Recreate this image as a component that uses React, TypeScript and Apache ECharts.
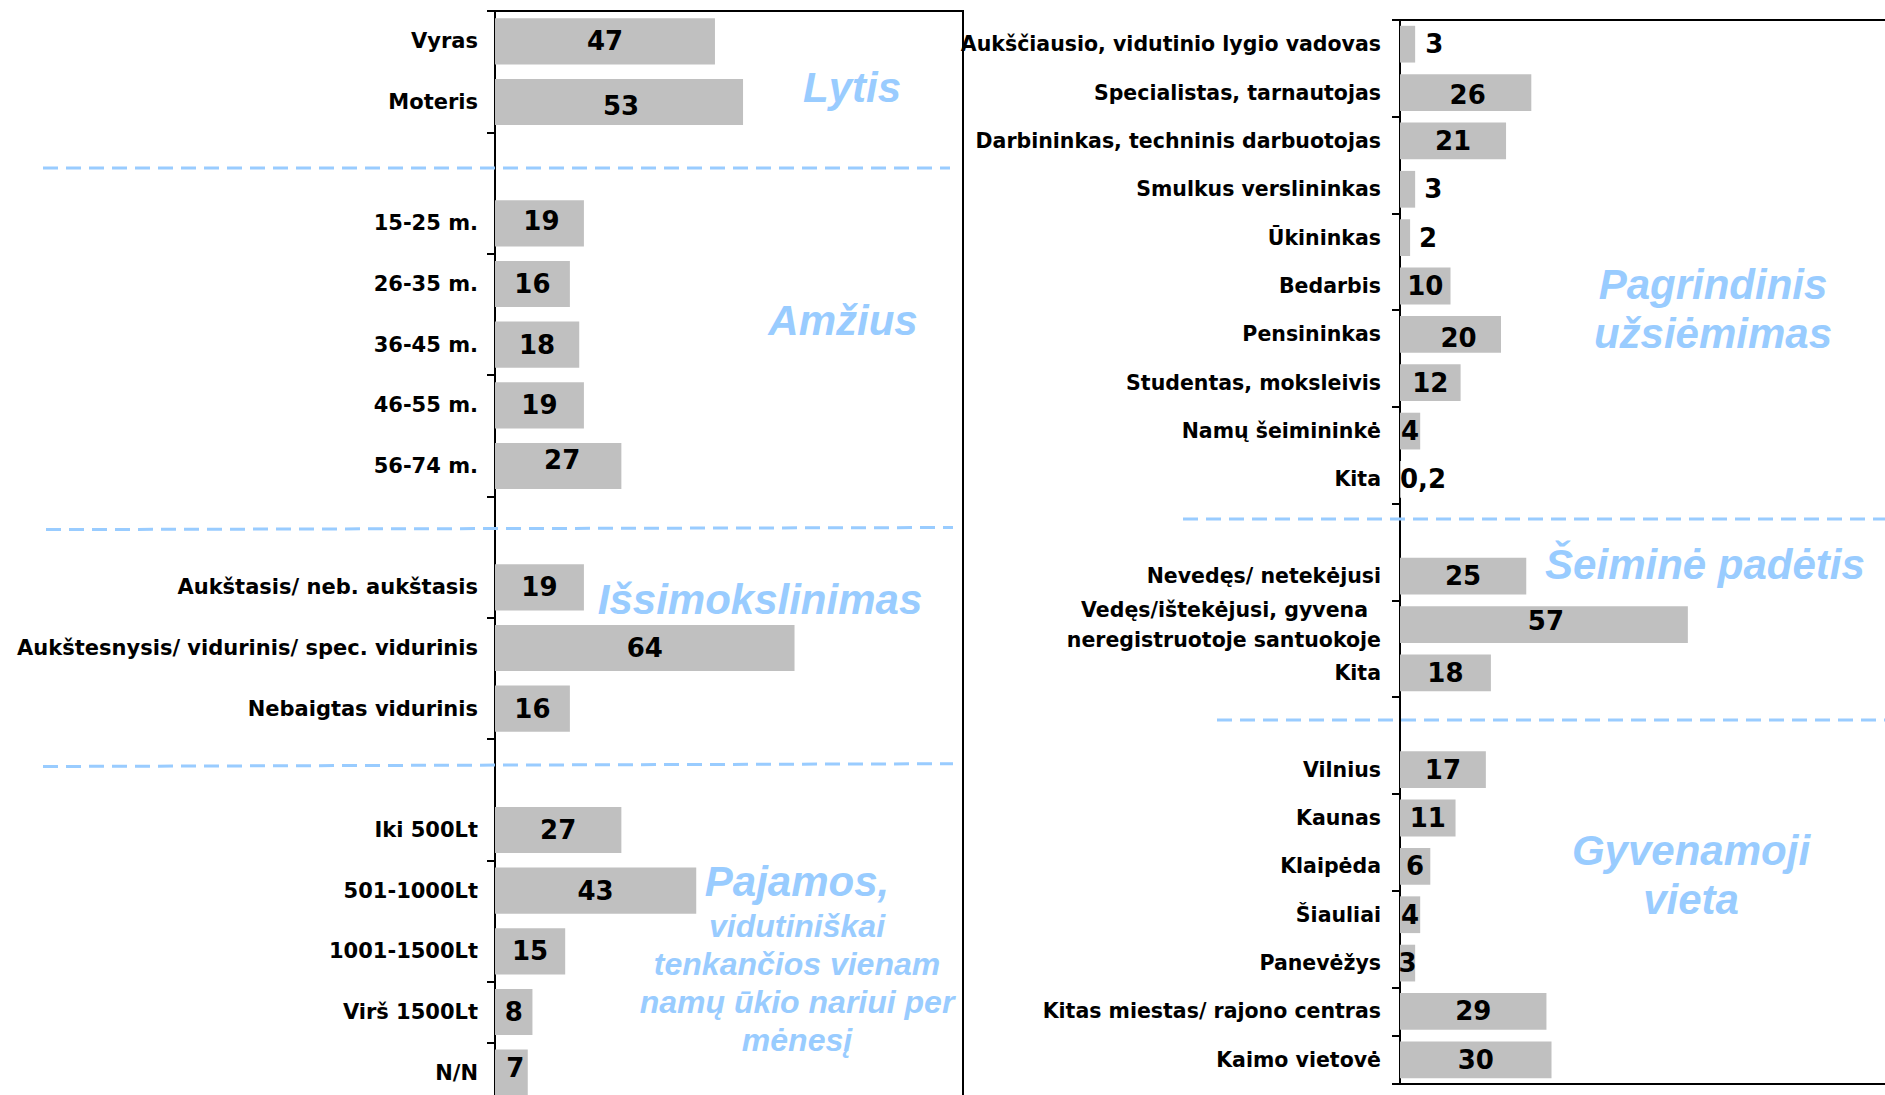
import React, { useEffect, useRef } from "react";
import * as echarts from "echarts";

// ---------- data ----------
const leftCategories = [
  "Vyras", "Moteris", "",
  "15-25 m.", "26-35 m.", "36-45 m.", "46-55 m.", "56-74 m.", "",
  "Aukštasis/ neb. aukštasis", "Aukštesnysis/ vidurinis/ spec. vidurinis", "Nebaigtas vidurinis", "",
  "Iki 500Lt", "501-1000Lt", "1001-1500Lt", "Virš 1500Lt", "N/N",
];
const leftValues = [47, 53, null, 19, 16, 18, 19, 27, null, 19, 64, 16, null, 27, 43, 15, 8, 7];

const rightCategories = [
  "Aukščiausio, vidutinio lygio vadovas", "Specialistas, tarnautojas", "Darbininkas, techninis darbuotojas",
  "Smulkus verslininkas", "Ūkininkas", "Bedarbis", "Pensininkas", "Studentas, moksleivis",
  "Namų šeimininkė", "Kita", "",
  "Nevedęs/ netekėjusi", "Vedęs/ištekėjusi, gyvena\nneregistruotoje santuokoje", "Kita", "",
  "Vilnius", "Kaunas", "Klaipėda", "Šiauliai", "Panevėžys", "Kitas miestas/ rajono centras", "Kaimo vietovė",
];
const rightValues = [3, 26, 21, 3, 2, 10, 20, 12, 4, 0.2, null, 25, 57, 18, null, 17, 11, 6, 4, 3, 29, 30];

const leftTitles = ["Lytis", "Amžius", "Išsimokslinimas", "Pajamos,"];
const incomeNote = "vidutiniškai\ntenkančios vienam\nnamų ūkio nariui per\nmėnesį";
const rightTitles = ["Pagrindinis\nužsiėmimas", "Šeiminė padėtis", "Gyvenamoji\nvieta"];

// ---------- styles ----------
const BLUE = "#99CCFF";
const BAR = "#C0C0C0";
const LABEL_FONT = "DejaVu Sans";
const TITLE_FONT = "Liberation Sans";

const leftLabelTweaks: Record<number, any> = {
  1: { offset: [2, 4] },
  3: { offset: [2, -2] },
  7: { offset: [4, -6] },
  17: { offset: [4, -5] },
};
const rightLabelTweaks: Record<number, any> = {
  0: { position: "right", distance: 10 },
  1: { offset: [2, 2] },
  3: { position: "right", distance: 9 },
  4: { position: "right", distance: 9 },
  6: { offset: [8, 4] },
  9: { position: "right", distance: -1 },
  12: { offset: [2, -4] },
};

const keyed = (arr: string[]) => arr.map((c, i) => `${i}|${c}`);
const unkey = (v: string) => v.slice(v.indexOf("|") + 1);

const seriesData = (vals: (number | null)[], tweaks: Record<number, any>) =>
  vals.map((v, i) => (tweaks[i] ? { value: v, label: tweaks[i] } : v));

const valueLabel = {
  show: true,
  position: "inside",
  color: "#000",
  fontFamily: LABEL_FONT,
  fontWeight: "bold",
  fontSize: 26,
  textBorderWidth: 0,
  formatter: (p: any) => String(p.value).replace(".", ","),
};

const catAxisCommon = (margin: number, fontSize: number) => ({
  type: "category",
  inverse: true,
  axisLine: { show: true, lineStyle: { color: "#000", width: 2 } },
  axisTick: { show: true, interval: 1, length: 8, lineStyle: { color: "#000", width: 2 } },
  axisLabel: {
    show: true,
    interval: 0,
    margin,
    color: "#000",
    fontFamily: LABEL_FONT,
    fontWeight: "bold",
    fontSize,
    lineHeight: 30,
  },
  splitLine: { show: false },
});

const titleText = (text: string, x: number, y: number, size: number, lineHeight?: number) => ({
  type: "text",
  x,
  y,
  z: 100,
  style: {
    text,
    fill: BLUE,
    fontFamily: TITLE_FONT,
    fontWeight: "bold",
    fontStyle: "italic",
    fontSize: size,
    lineHeight: lineHeight || size * 1.15,
    align: "center",
    verticalAlign: "middle",
  },
});

const dash = (x1: number, y1: number, x2: number, y2: number) => ({
  type: "line",
  z: 50,
  shape: { x1, y1, x2, y2 },
  style: { stroke: BLUE, lineWidth: 3, lineDash: [15, 8] },
});

export default function App() {
  const ref = useRef<HTMLDivElement>(null);

  useEffect(() => {
    if (!ref.current) return;
    const chart = echarts.init(ref.current, undefined, { renderer: "svg" });

    const rightAxis: any = catAxisCommon(19, 20.5);
    rightAxis.axisLabel.formatter = (v: string) => {
      const t = unkey(v);
      if (t.includes("\n")) {
        const [a, b] = t.split("\n");
        return `{a|${a}}\n{b|${b}}`;
      }
      return t;
    };
    const richBase = { fontFamily: LABEL_FONT, fontWeight: "bold", fontSize: 20.5, color: "#000", lineHeight: 30 };
    rightAxis.axisLabel.rich = { a: { ...richBase, padding: [0, 13, 0, 0] }, b: { ...richBase } };
    rightAxis.gridIndex = 1;
    rightAxis.data = keyed(rightCategories);

    const leftAxis: any = catAxisCommon(17, 21);
    leftAxis.axisLabel.formatter = (v: string) => unkey(v);
    leftAxis.gridIndex = 0;
    leftAxis.data = keyed(leftCategories);

    chart.setOption({
      animation: false,
      backgroundColor: "#fff",
      grid: [
        {
          left: 495, top: 11, width: 468, height: 1092,
          show: true, borderColor: "#000", borderWidth: 2,
          containLabel: false, outerBoundsMode: "none",
        },
        {
          left: 1400, top: 20, width: 505, height: 1064,
          show: true, borderColor: "#000", borderWidth: 2,
          containLabel: false, outerBoundsMode: "none",
        },
      ],
      xAxis: [
        { type: "value", gridIndex: 0, min: 0, max: 100, show: false, splitLine: { show: false } },
        { type: "value", gridIndex: 1, min: 0, max: 100, show: false, splitLine: { show: false } },
      ],
      yAxis: [leftAxis, rightAxis],
      series: [
        {
          type: "bar",
          xAxisIndex: 0,
          yAxisIndex: 0,
          barCategoryGap: "24%",
          itemStyle: { color: BAR },
          label: valueLabel,
          data: seriesData(leftValues, leftLabelTweaks),
        },
        {
          type: "bar",
          xAxisIndex: 1,
          yAxisIndex: 1,
          barCategoryGap: "24%",
          itemStyle: { color: BAR },
          label: valueLabel,
          data: seriesData(rightValues, rightLabelTweaks),
        },
      ],
      graphic: [
        dash(43, 168, 950, 168),
        dash(46, 529.6, 953, 527.5),
        dash(43, 766.5, 953, 763.7),
        dash(1183, 519, 1885, 519),
        dash(1217, 720, 1885, 720),
        titleText(leftTitles[0], 852, 87, 42),
        titleText(leftTitles[1], 843, 320, 42),
        titleText(leftTitles[2], 760, 599, 42),
        titleText(leftTitles[3], 797, 881, 42),
        titleText(incomeNote, 797, 982.5, 32, 38),
        titleText(rightTitles[0], 1713, 308.5, 42, 49),
        titleText(rightTitles[1], 1705, 564, 42),
        titleText(rightTitles[2], 1691, 874.5, 42, 49),
      ],
    });

    return () => chart.dispose();
  }, []);

  return (
    <div
      ref={ref}
      style={{ position: "fixed", left: 0, top: 0, width: 1885, height: 1095, background: "#fff" }}
    />
  );
}
